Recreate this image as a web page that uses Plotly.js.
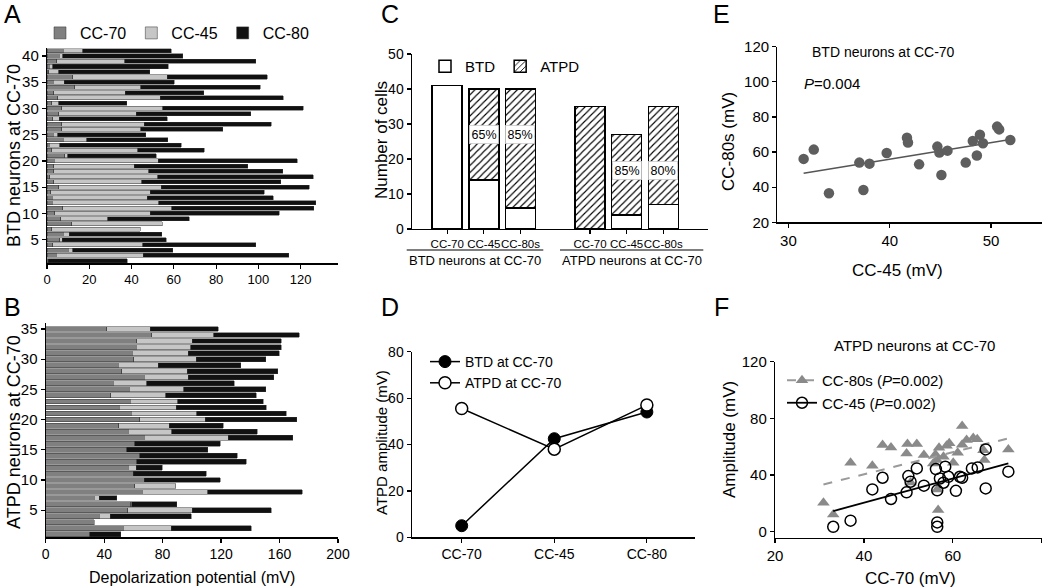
<!DOCTYPE html>
<html><head><meta charset="utf-8">
<script src="https://cdn.plot.ly/plotly-3.0.1.min.js"></script>
<style>html,body{margin:0;padding:0;background:#fff}#chart{width:1050px;height:588px}</style>
</head><body><div id="chart"></div>
<script>
// ---------- Panel A : BTD neurons at CC-70 (rows 1..41), stacked amplitudes (mV)
const aCC70 = [0.5,4.3,10.1,2.7,6.1,7.7,2.2,11.7,6.5,3.6,7.4,2.4,2.5,1.7,5.5,3.3,1.4,3.3,3.3,3.5,8.5,2.2,1.1,7.7,3.0,6.9,6.9,2.7,5.5,6.9,2.2,5.0,3.3,13.1,3.0,12.1,0.8,1.0,4.6,5.8,7.7];
const aCC45 = [null,41.3,2.0,42.6,1.0,2.9,42.0,42.9,22.2,45.3,51.6,50.4,45.0,47.2,48.6,41.5,51.1,44.8,37.9,49.2,1.3,40.8,5.0,11.1,2.0,37.4,39.1,3.0,36.6,47.8,3.3,48.5,33.7,31.2,5.2,44.8,4.7,1.7,32.1,1.6,9.2];
const aCC80 = [37.5,68.7,47.5,53.4,49.3,43.6,null,null,38.6,61.0,67.3,74.4,59.6,53.9,70.0,65.7,73.5,63.4,53.7,65.6,41.9,31.4,57.4,38.3,41.7,38.8,60.0,51.1,54.2,66.6,32.3,58.3,37.1,56.6,51.9,47.3,43.2,54.7,62.0,56.9,41.9];
// ---------- Panel B : ATPD neurons at CC-70 (rows 1..35)
const bCC70 = [30.3,53.1,33.3,36.7,56.1,58.2,33.3,65.9,60.9,67.3,60.0,56.6,62.3,64.5,55.6,60.9,67.5,56.6,49.9,64.3,58.4,50.2,57.9,44.5,57.2,46.3,67.5,52.2,49.7,60.4,59.3,61.8,62.3,72.5,41.7];
const bCC45 = [null,32.9,null,7.3,44.0,0.6,3.2,44.9,28.0,null,null,5.2,null,null,null,null,57.5,29.8,34.5,44.7,45.1,39.0,32.4,37.8,37.2,22.8,29.9,44.5,27.4,42.5,38.3,37.4,37.8,42.4,29.7];
const bCC80 = [21.2,54.7,null,55.7,54.1,30.8,12.1,64.6,null,52.0,49.7,18.0,74.8,66.6,55.2,58.4,44.0,58.4,37.2,62.7,61.2,61.8,58.4,61.6,56.1,60.0,58.6,62.0,56.3,47.8,62.3,61.8,60.9,58.6,46.7];
const abSeries = ['CC-70','CC-45','CC-80'];
// ---------- Panel C : number of cells
const cCategories = ['CC-70','CC-45','CC-80s','CC-70','CC-45','CC-80s'];
const cGroupOf = [0,0,0,1,1,1];
const cGroupNames = ['BTD neurons at CC-70','ATPD neurons at CC-70'];
const cBTD  = [41,14,6,0,4,7];
const cATPD = [0,26,34,35,23,28];
// ---------- Panel D : ATPD amplitude
const dCats = ['CC-70','CC-45','CC-80'];
const dBTD  = [5,42.5,54];
const dATPD = [55.5,38,57];
// ---------- Panel E : BTD neurons at CC-70
const eCC45  = [31.5,32.5,34.0,37.0,37.4,38.0,39.7,41.7,41.8,42.9,44.7,44.9,45.1,45.7,47.5,48.2,48.6,48.9,49.2,50.6,50.8,51.9];
const eCC80s = [56.1,61.4,36.5,54.0,38.4,53.4,59.5,68.2,65.4,53.0,63.1,59.7,46.9,60.8,54.0,66.3,58.0,69.9,65.0,74.5,72.9,66.9];
const eFitX = [31.5,51.9];
const eFitY = [47.9,67.2];
// ---------- Panel F : ATPD neurons at CC-70
const f80X = [30.9,33.1,37.0,41.9,44.2,46.1,49.6,49.8,50.5,51.9,53.5,55.6,56.1,56.4,56.5,56.7,56.9,57.9,58.6,59.2,60.1,61.1,62.1,62.1,63.1,64.6,65.5,66.9,67.1,72.5];
const f80Y = [20.5,12.2,48.7,46.6,61.2,59.5,55.3,61.9,34.8,61.9,54.1,48.2,54.6,50.6,29.9,15.3,59.3,52.9,60.7,62.4,48.7,55.8,74.6,61.4,64.7,66.1,65.2,57.6,50.6,58.1];
const f45X = [33.1,37.0,41.9,44.2,46.1,49.6,50.0,50.5,51.9,53.5,56.2,56.5,56.5,56.5,57.1,57.9,58.3,59.0,60.7,61.6,62.1,64.3,65.6,67.4,67.4,72.5];
const f45Y = [3.5,7.8,29.9,38.1,23.1,27.8,39.3,35.3,44.7,32.5,44.2,29.2,6.6,3.5,37.6,34.6,45.9,38.8,28.9,38.8,38.1,44.7,45.4,58.1,30.6,42.4];
const f80FitX = [30.9,72.5], f80FitY = [33.4,65.9];
const f45FitX = [33.1,72.5], f45FitY = [14.6,48.2];

// ---------- styling
const FONT = 'Liberation Sans, Arial, Helvetica, sans-serif';
const COL = {'CC-70':'#808080','CC-45':'#c6c6c6','CC-80':'#111111'};
const W = 1050, H = 588;
const px = v => v / W, py = v => 1 - v / H;

const aRows = aCC70.map((_, i) => i + 1);
const bRows = bCC70.map((_, i) => i + 1);
const aVals = {'CC-70': aCC70, 'CC-45': aCC45, 'CC-80': aCC80};
const bVals = {'CC-70': bCC70, 'CC-45': bCC45, 'CC-80': bCC80};

const traces = [];
abSeries.forEach((s) => {
  traces.push({type:'bar', orientation:'h', y:aRows, x:aVals[s], name:s, width:0.78,
    marker:{color:COL[s], line:{color:'#333', width:0.5}}, xaxis:'x', yaxis:'y',
    legend:'legend', hoverinfo:'x+y'});
});
abSeries.forEach((s) => {
  traces.push({type:'bar', orientation:'h', y:bRows, x:bVals[s], name:s, width:0.8, showlegend:false,
    marker:{color:COL[s], line:{color:'#333', width:0.5}}, xaxis:'x2', yaxis:'y2'});
});

// Panel C positions: category index with a gap between the two groups
const cPos = cCategories.map((_, i) => i + cGroupOf[i] * 0.9);
traces.push({type:'bar', x:cPos, y:cBTD, name:'BTD', width:0.82,
  marker:{color:'#fff', line:{color:'#000', width:1.5}}, xaxis:'x3', yaxis:'y3', legend:'legend2'});
traces.push({type:'bar', x:cPos, y:cATPD, name:'ATPD', width:0.82,
  marker:{color:'#fff', pattern:{shape:'/', fgcolor:'#000', bgcolor:'#fff', size:5, solidity:0.22},
  line:{color:'#000', width:1.5}}, xaxis:'x3', yaxis:'y3', legend:'legend2'});

// Panel D
traces.push({type:'scatter', mode:'lines+markers', x:dCats, y:dBTD, name:'BTD at CC-70',
  line:{color:'#000', width:1.5}, marker:{color:'#000', size:12, line:{color:'#000', width:1}},
  xaxis:'x4', yaxis:'y4', legend:'legend3'});
traces.push({type:'scatter', mode:'lines+markers', x:dCats, y:dATPD, name:'ATPD at CC-70',
  line:{color:'#000', width:1.5}, marker:{color:'#fff', size:12, line:{color:'#000', width:1.5}},
  xaxis:'x4', yaxis:'y4', legend:'legend3'});

// Panel E
traces.push({type:'scatter', mode:'lines', x:eFitX, y:eFitY, showlegend:false,
  line:{color:'#555', width:1.5}, xaxis:'x5', yaxis:'y5'});
traces.push({type:'scatter', mode:'markers', x:eCC45, y:eCC80s, showlegend:false,
  marker:{color:'#5e5e5e', size:10.5}, xaxis:'x5', yaxis:'y5'});

// Panel F
traces.push({type:'scatter', mode:'markers', x:f80X, y:f80Y, showlegend:false,
  marker:{color:'#8a8a8a', size:11, symbol:'triangle-up'}, xaxis:'x6', yaxis:'y6'});
traces.push({type:'scatter', mode:'lines+markers', x:f80FitX, y:f80FitY, name:'CC-80s (<i>P</i>=0.002)',
  line:{color:'#9a9a9a', width:2, dash:'dash'}, marker:{color:'#8a8a8a', size:11, symbol:'triangle-up'},
  selectedpoints:[], unselected:{marker:{opacity:0}},
  xaxis:'x6', yaxis:'y6', legend:'legend4'});
traces.push({type:'scatter', mode:'markers', x:f45X, y:f45Y, showlegend:false,
  marker:{color:'#000', size:11, symbol:'circle-open', line:{width:1.5}}, xaxis:'x6', yaxis:'y6'});
traces.push({type:'scatter', mode:'lines+markers', x:f45FitX, y:f45FitY, name:'CC-45 (<i>P</i>=0.002)',
  line:{color:'#000', width:1.8}, marker:{color:'#000', size:11, symbol:'circle-open', line:{width:1.5}},
  selectedpoints:[], unselected:{marker:{opacity:0}},
  xaxis:'x6', yaxis:'y6', legend:'legend4'});

// ---------- axes
function ax(o) {
  return Object.assign({showgrid:false, zeroline:false, showline:true, linecolor:'#000', linewidth:1.2,
    ticks:'outside', ticklen:4, tickwidth:1.2, tickcolor:'#000', tickfont:{size:13, color:'#000'},
    tickangle:0, fixedrange:true, automargin:false}, o);
}
const annotations = [];
function txt(t, x, y, size, extra) {
  annotations.push(Object.assign({text:t, xref:'paper', yref:'paper', x:px(x), y:py(y),
    xanchor:'center', yanchor:'middle', showarrow:false, font:{size:size, color:'#000'}}, extra || {}));
}
// panel letters
txt('A', 12, 14, 25); txt('B', 12, 307, 25); txt('C', 390, 14, 25);
txt('D', 390, 307, 25); txt('E', 721, 14, 25); txt('F', 721, 307, 25);
// axis titles
txt('BTD neurons at CC-70', 14, 156, 18, {textangle:-90});
txt('ATPD neurons at CC-70', 14, 432, 18, {textangle:-90});
txt('Depolarization potential (mV)', 192, 577, 16);
txt('Number of cells', 381, 140, 17, {textangle:-90});
txt('ATPD amplitude (mV)', 381, 443, 15, {textangle:-90});
txt('CC-80s (mV)', 729, 142, 17, {textangle:-90});
txt('CC-45 (mV)', 897, 270, 17);
txt('Amplitude (mV)', 729, 440, 17, {textangle:-90});
txt('CC-70 (mV)', 910, 578, 17);
// panel titles in E and F
txt('BTD neurons at CC-70', 883, 52, 14);
txt('<i>P</i>=0.004', 802, 84, 15, {xanchor:'left'});
txt('ATPD neurons at CC-70', 914, 345, 15);
// group labels in C
txt(cGroupNames[0], 475, 260, 13);
txt(cGroupNames[1], 632, 260, 13);
// percentage of ATPD cells in C
const cLabelLevel = [27, 16.6];
cCategories.forEach((_, i) => {
  if (cBTD[i] > 0 && cATPD[i] > 0) {
    annotations.push({text: Math.round(100 * cATPD[i] / (cBTD[i] + cATPD[i])) + '%', xref:'x3', yref:'y3',
      x:cPos[i], y:cLabelLevel[cGroupOf[i]], showarrow:false, bgcolor:'#fff', borderpad:2,
      bordercolor:'#bbb', borderwidth:0.6, font:{size:12.5, color:'#000'}});
  }
});

const layout = {
  width:W, height:H, margin:{l:0, r:0, t:0, b:0}, paper_bgcolor:'#fff', plot_bgcolor:'rgba(0,0,0,0)',
  font:{family:FONT, color:'#000', size:13}, barmode:'stack', bargap:0.2,
  xaxis: ax({domain:[px(47), px(338.3)], range:[0, 137.8], tickvals:[0,20,40,60,80,100,120], anchor:'y'}),
  yaxis: ax({domain:[py(263.3), py(48.3)], range:[0.49, 41.46], tickvals:[5,10,15,20,25,30,35,40], anchor:'x', tickfont:{size:15}}),
  xaxis2: ax({domain:[px(45.7), px(338)], range:[0, 200], tickvals:[0,40,80,120,160,200], anchor:'y2', tickfont:{size:14}}),
  yaxis2: ax({domain:[py(537.3), py(322.7)], range:[0.5, 36.04], tickvals:[5,10,15,20,25,30,35], anchor:'x2', tickfont:{size:15}}),
  xaxis3: ax({domain:[px(411.7), px(708.3)], range:[-0.97, 7.13], tickvals:cPos, ticktext:cCategories, anchor:'y3',
    tickfont:{size:11.5}}),
  yaxis3: ax({domain:[py(229), py(54)], range:[0, 50], dtick:10, anchor:'x3', tickfont:{size:14}}),
  xaxis4: ax({domain:[px(411.7), px(695)], type:'category', range:[-0.54, 2.52], anchor:'y4', tickfont:{size:14}}),
  yaxis4: ax({domain:[py(537.3), py(351.7)], range:[0, 80], dtick:20, anchor:'x4', tickfont:{size:14}}),
  xaxis5: ax({domain:[px(777.3), px(1041.7)], range:[28.9, 55], tickvals:[30,40,50], anchor:'y5', tickfont:{size:15}}),
  yaxis5: ax({domain:[py(222.3), py(46.7)], range:[20, 120], dtick:20, anchor:'x5', tickfont:{size:15}}),
  xaxis6: ax({domain:[px(775), px(1041.7)], range:[20, 80], dtick:20, anchor:'y6', tickfont:{size:15}}),
  yaxis6: ax({domain:[py(537.7), py(361.7)], range:[-4.2, 120], tickvals:[0,40,80,120], anchor:'x6', tickfont:{size:15}}),
  legend: {orientation:'h', x:px(40), y:py(16), xanchor:'left', yanchor:'top', font:{size:16},
    bgcolor:'rgba(0,0,0,0)', itemwidth:30, traceorder:'normal'},
  legend2: {orientation:'h', x:px(425), y:py(50), xanchor:'left', yanchor:'top', font:{size:15},
    bgcolor:'rgba(0,0,0,0)', itemwidth:30, traceorder:'normal'},
  legend3: {x:px(425), y:py(346), xanchor:'left', yanchor:'top', font:{size:14},
    bgcolor:'rgba(0,0,0,0)', itemwidth:30, traceorder:'normal'},
  legend4: {x:px(782), y:py(364), xanchor:'left', yanchor:'top', font:{size:15},
    bgcolor:'rgba(0,0,0,0)', itemwidth:30, traceorder:'normal'},
  annotations: annotations,
  shapes: [
    {type:'line', xref:'paper', yref:'paper', x0:px(406.7), x1:px(543.3), y0:py(250), y1:py(250), line:{color:'#000', width:1.2}},
    {type:'line', xref:'paper', yref:'paper', x0:px(560), x1:px(703.3), y0:py(250), y1:py(250), line:{color:'#000', width:1.2}}
  ]
};
Plotly.newPlot('chart', traces, layout, {displayModeBar:false, staticPlot:true});
</script></body></html>
